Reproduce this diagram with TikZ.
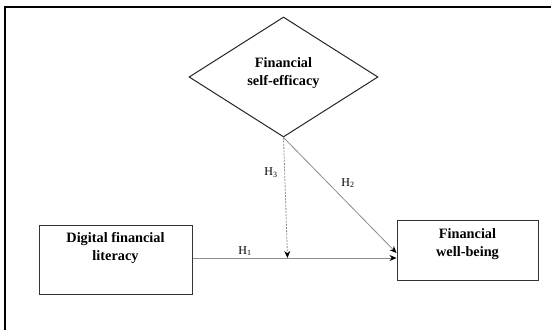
\documentclass[tikz,border=0pt]{standalone}
\usepackage{fontspec}
\setmainfont{Liberation Serif}
\usetikzlibrary{shapes.geometric,arrows.meta}
\begin{document}
\begin{tikzpicture}[x=1pt,y=-1pt,
  boxstyle/.style={draw=black!80,line width=1pt,inner sep=0pt},
  titletext/.style={font=\fontsize{14.3}{17.8}\selectfont\bfseries,align=center,inner sep=0pt},
  hlabel/.style={font=\fontsize{12}{13}\selectfont,inner sep=0pt},
  conn/.style={draw=black!45,line width=0.8pt,-{Stealth[length=7pt,width=6pt,black]}},
  dashconn/.style={draw=black!45,line width=0.8pt,dash pattern=on 2pt off 1.2pt,-{Stealth[length=7pt,width=6pt,black]}}]
\useasboundingbox (0,0) rectangle (551,329);
\fill[white] (0,0) rectangle (551,329);
% frame
\coordinate (ftl) at (5,7);
\coordinate (ftr) at (551,7);
\coordinate (fbl) at (5,329);
\draw[line width=2pt,line cap=rect] (fbl) -- (ftl) -- (ftr);
% diamond
\node[draw=black!85,line width=1pt,diamond,minimum width=189pt,minimum height=120pt,inner sep=0pt] (mod) at (283.5,77) {};
\node[titletext] (modtext) at (283.5,73) {Financial\\self-efficacy};
% left box
\node[boxstyle,minimum width=153pt,minimum height=69pt] (dfl) at (115.5,259.5) {};
\node[titletext] (dfltext) at (115.5,248) {Digital financial\\literacy};
% right box
\node[boxstyle,minimum width=141pt,minimum height=60pt] (fwb) at (467.5,250) {};
\node[titletext] (fwbtext) at (467.5,244) {Financial\\well-being};
% connectors
\coordinate (meet) at (287.5,258);
\draw[conn] (dfl.east |- 0,258) -- (fwb.west |- 0,258);
\draw[conn] (mod.south) -- (fwb.west |- 0,253);
\draw[dashconn] (mod.south) -- (meet);
% labels
\node[hlabel] (h1) at (245,251) {H\textsubscript{1}};
\node[hlabel] (h2) at (348,183) {H\textsubscript{2}};
\node[hlabel] (h3) at (271,173) {H\textsubscript{3}};
\end{tikzpicture}
\end{document}
